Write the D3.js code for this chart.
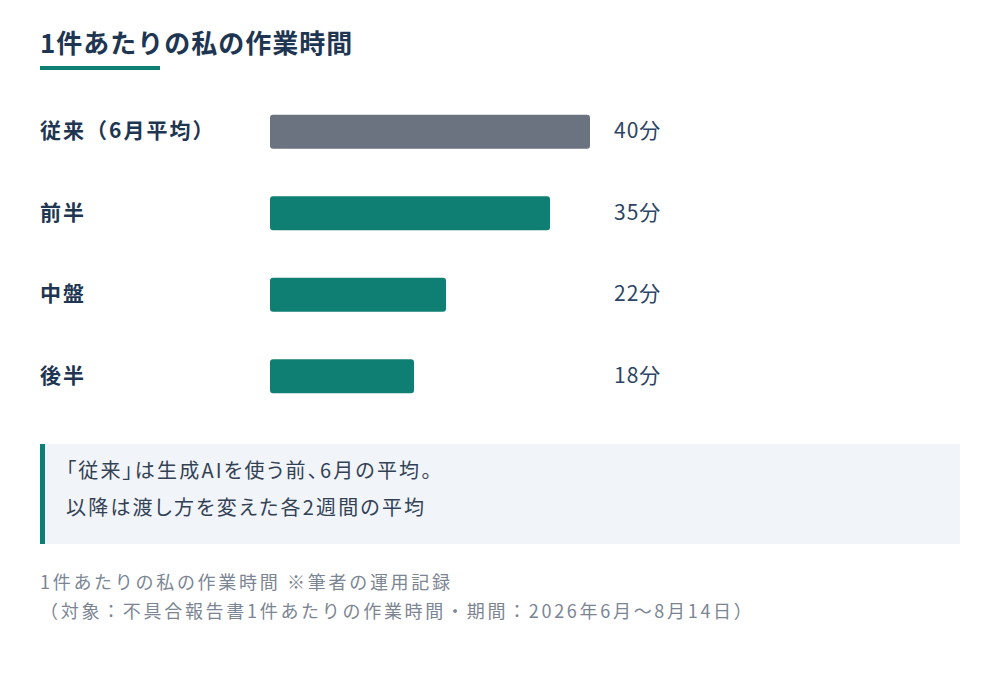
<!DOCTYPE html>
<html lang="ja">
<head>
<meta charset="utf-8">
<script src="https://cdn.jsdelivr.net/npm/d3@7"></script>
<style>
  body { margin: 0; background: #fff; }
  svg { display: block; font-family: "Noto Sans CJK JP", "Noto Sans", sans-serif; }
</style>
</head>
<body>
<div id="chart"></div>
<script>
// Data
var categories = ["従来（6月平均）", "前半", "中盤", "後半"];
var minutes = [40, 35, 22, 18];
var valueLabels = ["40分", "35分", "22分", "18分"];
var noteLines = ["「従来」は生成AIを使う前、6月の平均。", "以降は渡し方を変えた各2週間の平均"];
var sourceLines = ["1件あたりの私の作業時間 ※筆者の運用記録", "（対象：不具合報告書1件あたりの作業時間・期間：2026年6月～8月14日）"];

var svgWidth = 1000;
var svgHeight = 674;

var svg = d3.select("#chart")
  .append("svg")
  .attr("width", svgWidth)
  .attr("height", svgHeight);

// Title and underline
svg.append("text")
  .attr("x", 40)
  .attr("y", 53)
  .style("font-size", "26px")
  .style("font-weight", "bold")
  .style("letter-spacing", "1px")
  .style("fill", "#1e3652")
  .text("1件あたりの私の作業時間");

svg.append("rect")
  .attr("x", 40)
  .attr("y", 66)
  .attr("width", 120)
  .attr("height", 4)
  .attr("fill", "#0f7f73");

// Scales
var xScale = d3.scaleLinear()
  .domain([0, 40])
  .range([270, 590]);

var yScale = d3.scaleBand()
  .domain(categories)
  .range([90, 418])
  .paddingInner(0.585)
  .paddingOuter(0.305);

var rows = svg.selectAll("g.row")
  .data(categories)
  .enter()
  .append("g")
  .attr("class", "row");

// Bars
rows.append("rect")
  .attr("x", xScale(0))
  .attr("y", d => yScale(d))
  .attr("width", (d, i) => xScale(minutes[i]) - xScale(0))
  .attr("height", yScale.bandwidth())
  .attr("rx", 3)
  .attr("fill", (d, i) => i === 0 ? "#6b7280" : "#0f7f73");

// Category labels
rows.append("text")
  .attr("x", 40)
  .attr("y", d => yScale(d) + yScale.bandwidth() / 2 - 1)
  .attr("dy", "0.35em")
  .style("font-size", "21px")
  .style("font-weight", "bold")
  .style("letter-spacing", "2px")
  .style("fill", "#1e3652")
  .text(d => d);

// Value labels
rows.append("text")
  .attr("x", 614)
  .attr("y", d => yScale(d) + yScale.bandwidth() / 2 - 1)
  .attr("dy", "0.35em")
  .style("font-size", "21px")
  .style("letter-spacing", "1px")
  .style("fill", "#2c4566")
  .text((d, i) => valueLabels[i]);

// Note box
svg.append("rect")
  .attr("x", 40)
  .attr("y", 444)
  .attr("width", 920)
  .attr("height", 100)
  .attr("fill", "#f1f5f9");

svg.append("rect")
  .attr("x", 40)
  .attr("y", 444)
  .attr("width", 5)
  .attr("height", 100)
  .attr("fill", "#0f7f73");

// proportional punctuation like the original
svg.selectAll("text.note")
  .data(noteLines)
  .enter()
  .append("text")
  .attr("class", "note")
  .attr("x", 66)
  .attr("y", (d, i) => 478 + i * 37)
  .style("font-size", "20px")
  .style("letter-spacing", "2.2px")
  .style("font-feature-settings", "'palt'")
  .style("fill", "#334155")
  .text(d => d);

// Source
svg.selectAll("text.source")
  .data(sourceLines)
  .enter()
  .append("text")
  .attr("class", "source")
  .attr("x", 40)
  .attr("y", (d, i) => 589 + i * 29)
  .style("font-size", "18px")
  .style("letter-spacing", "2.7px")
  .style("fill", "#7c8593")
  .text(d => d);
</script>
</body>
</html>
